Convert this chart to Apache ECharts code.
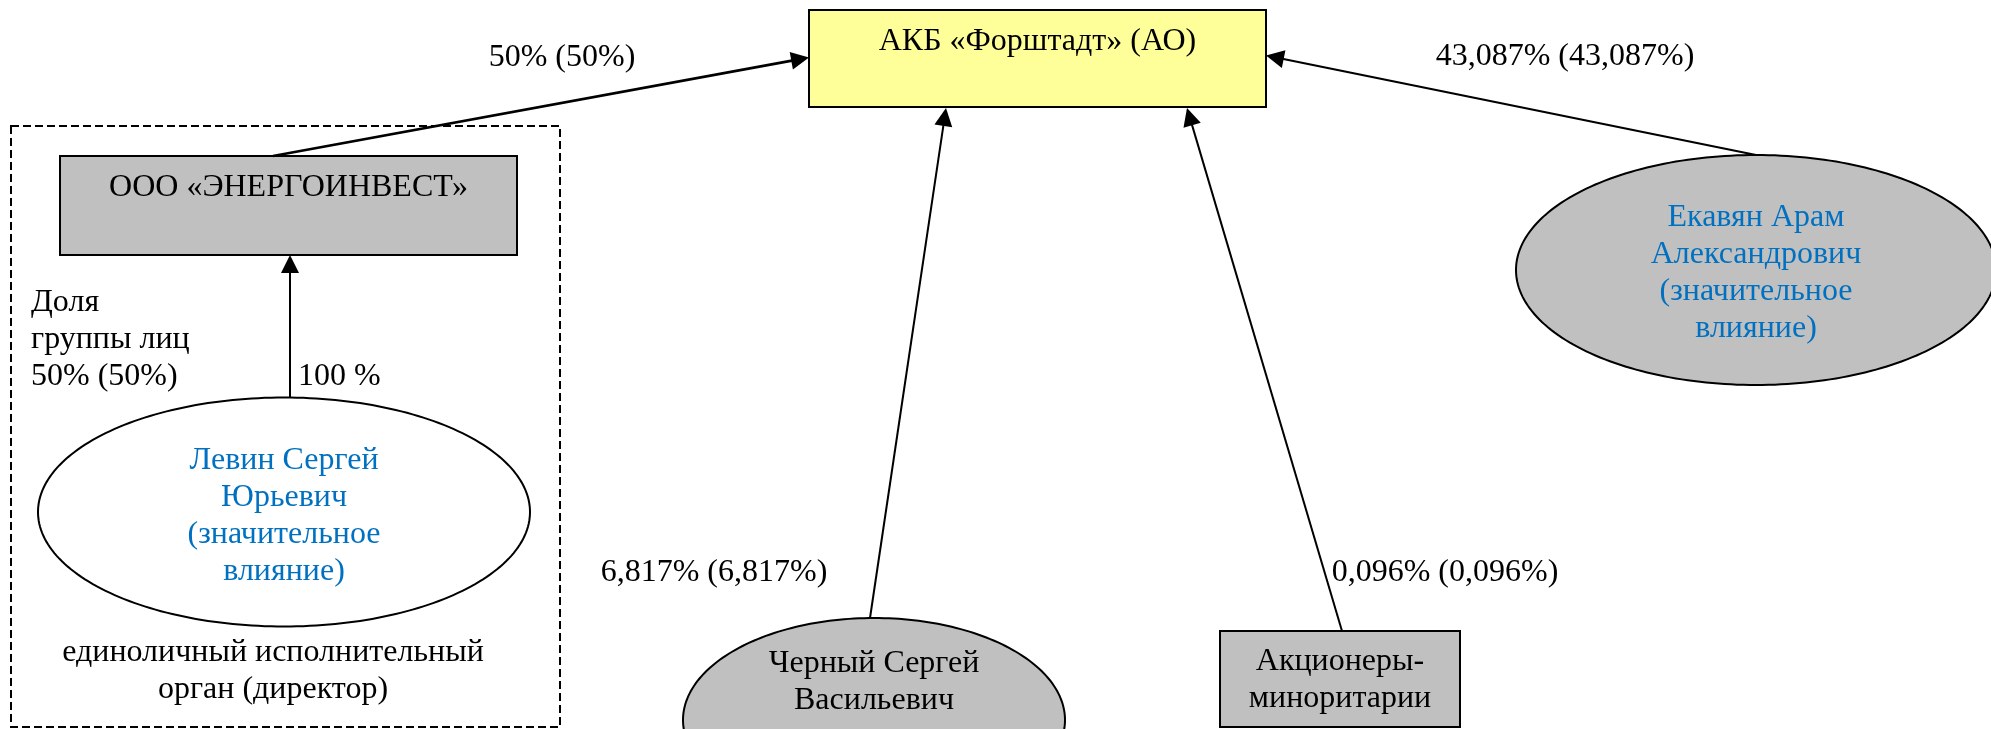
<!DOCTYPE html>
<html>
<head>
<meta charset="utf-8">
<script src="https://cdn.jsdelivr.net/npm/echarts@6/dist/echarts.min.js"></script>
<style>html,body{margin:0;padding:0;background:#fff}#c{width:1991px;height:729px}</style>
</head>
<body>
<div id="c"></div>
<script>
// ---- data (texts of the ownership diagram) ----
const entityIds = ['akb', 'energo', 'levin', 'ekavyan', 'chernyi', 'minority'];
const entityNames = [
  'АКБ «Форштадт» (АО)',
  'ООО «ЭНЕРГОИНВЕСТ»',
  'Левин Сергей\nЮрьевич\n(значительное\nвлияние)',
  'Екавян Арам\nАлександрович\n(значительное\nвлияние)',
  'Черный Сергей\nВасильевич',
  'Акционеры-\nминоритарии'
];
const linkFrom = ['energo', 'levin', 'ekavyan', 'chernyi', 'minority'];
const linkTo = ['akb', 'energo', 'akb', 'akb', 'akb'];
const shareLabels = ['50% (50%)', '100 %', '43,087% (43,087%)', '6,817% (6,817%)', '0,096% (0,096%)'];
const groupNotes = ['Доля\nгруппы лиц\n50% (50%)', 'единоличный исполнительный\nорган (директор)'];

// ---- layout & style (positions in canvas units, mapped through the axes) ----
const W = 1991, H = 729;
const FONT = "'Liberation Serif', 'Times New Roman', serif";
const FS = 32, LH = 37;
const ARROW = [14, 18];
const nodeLayout = {
  akb:      {pos: [1037.5, 58.5], size: [457, 97],  shape: 'rect',    fill: '#FFFF99', color: '#000',    off: [0, -17]},
  energo:   {pos: [288.5, 205.5], size: [457, 99],  shape: 'rect',    fill: '#C0C0C0', color: '#000',    off: [0, -18]},
  levin:    {pos: [284, 512],     size: [492, 229], shape: 'ellipse', fill: '#FFFFFF', color: '#0070C0', off: [0, 4]},
  ekavyan:  {pos: [1756, 270],    size: [480, 230], shape: 'ellipse', fill: '#C0C0C0', color: '#0070C0', off: [0, 3]},
  chernyi:  {pos: [874, 720],     size: [382, 204], shape: 'ellipse', fill: '#C0C0C0', color: '#000',    off: [0, -38]},
  minority: {pos: [1340, 679],    size: [240, 96],  shape: 'rect',    fill: '#C0C0C0', color: '#000',    off: [0, 1]}
};
const linkPorts = [
  [[273, 156], [809, 57.5]],
  [[290, 398], [290, 255]],
  [[1756, 155], [1266, 55.5]],
  [[870, 618], [946, 108]],
  [[1342, 631], [1187, 108]]
];
const linkWidths = [2.6, 2, 2.2, 2, 2];
const shareLabelPos = [[562, 58, 'center'], [298, 377, 'left'], [1565, 57, 'center'], [714, 573, 'center'], [1445, 573, 'center']];
const notePos = [[31, 340, 'left'], [273, 671, 'center']];
const dashedBox = {pos: [285.5, 426.5], size: [549, 601]};

// shapes: dashed group frame first, then entities
const shapeSpecs = [{pos: dashedBox.pos, size: dashedBox.size, shape: 'rect', fill: 'rgba(0,0,0,0)', dashed: true}]
  .concat(entityIds.map(id => nodeLayout[id]));
const shapeData = shapeSpecs.map((s, i) => [s.pos[0], s.pos[1], s.size[0], s.size[1], i]);

// texts: entity names, share labels, notes
const textSpecs = entityIds.map((id, i) => ({
  pos: [nodeLayout[id].pos[0] + nodeLayout[id].off[0], nodeLayout[id].pos[1] + nodeLayout[id].off[1]],
  text: entityNames[i], color: nodeLayout[id].color, align: 'center'
})).concat(shareLabels.map((t, i) => ({
  pos: [shareLabelPos[i][0], shareLabelPos[i][1]], text: t, color: '#000', align: shareLabelPos[i][2]
}))).concat(groupNotes.map((t, i) => ({
  pos: [notePos[i][0], notePos[i][1]], text: t, color: '#000', align: notePos[i][2]
})));
const textData = textSpecs.map((s, i) => [s.pos[0], s.pos[1], i]);

// the triangle head is centred on the line end, so pull the end back by half its length
function headAdjusted(p) {
  const dx = p[1][0] - p[0][0], dy = p[1][1] - p[0][1];
  const len = Math.sqrt(dx * dx + dy * dy);
  const k = (ARROW[1] / 2) / len;
  return [p[0], [p[1][0] - dx * k, p[1][1] - dy * k]];
}

function renderShape(params, api) {
  const spec = shapeSpecs[api.value(4)];
  const c = api.coord([api.value(0), api.value(1)]);
  const s = api.size([api.value(2), api.value(3)]);
  const style = {fill: spec.fill, stroke: '#000', lineWidth: 2};
  if (spec.dashed) style.lineDash = [8, 4];
  if (spec.shape === 'rect') {
    return {type: 'rect', shape: {x: c[0] - s[0] / 2, y: c[1] - s[1] / 2, width: s[0], height: s[1]}, style: style};
  }
  const pts = [];
  const N = 240;
  for (let k = 0; k < N; k++) {
    const a = 2 * Math.PI * k / N;
    pts.push([c[0] + s[0] / 2 * Math.cos(a), c[1] + s[1] / 2 * Math.sin(a)]);
  }
  return {type: 'polygon', shape: {points: pts}, style: style};
}

function renderText(params, api) {
  const spec = textSpecs[api.value(2)];
  const c = api.coord([api.value(0), api.value(1)]);
  return {
    type: 'text', x: c[0], y: c[1],
    style: {text: spec.text, fill: spec.color, fontFamily: FONT, fontSize: FS, lineHeight: LH,
            align: spec.align, verticalAlign: 'middle'}
  };
}

const chart = echarts.init(document.getElementById('c'), null, {renderer: 'canvas'});
chart.setOption({
  backgroundColor: '#ffffff',
  animation: false,
  grid: {left: 0, right: 0, top: 0, bottom: 0, containLabel: false},
  xAxis: {type: 'value', min: 0, max: W, show: false},
  yAxis: {type: 'value', min: 0, max: H, inverse: true, show: false},
  series: [
    {
      type: 'custom', name: 'shapes', coordinateSystem: 'cartesian2d', silent: true, clip: false, z: 1,
      renderItem: renderShape, data: shapeData
    },
    {
      type: 'lines', name: 'links', coordinateSystem: 'cartesian2d', silent: true, z: 3,
      symbol: ['none', 'triangle'], symbolSize: ARROW,
      lineStyle: {color: '#000', width: 2, opacity: 1, curveness: 0},
      data: linkPorts.map((p, i) => ({name: linkFrom[i] + '->' + linkTo[i], coords: headAdjusted(p),
                                      lineStyle: {width: linkWidths[i]}}))
    },
    {
      type: 'custom', name: 'texts', coordinateSystem: 'cartesian2d', silent: true, clip: false, z: 4,
      renderItem: renderText, data: textData
    }
  ]
});
</script>
</body>
</html>
